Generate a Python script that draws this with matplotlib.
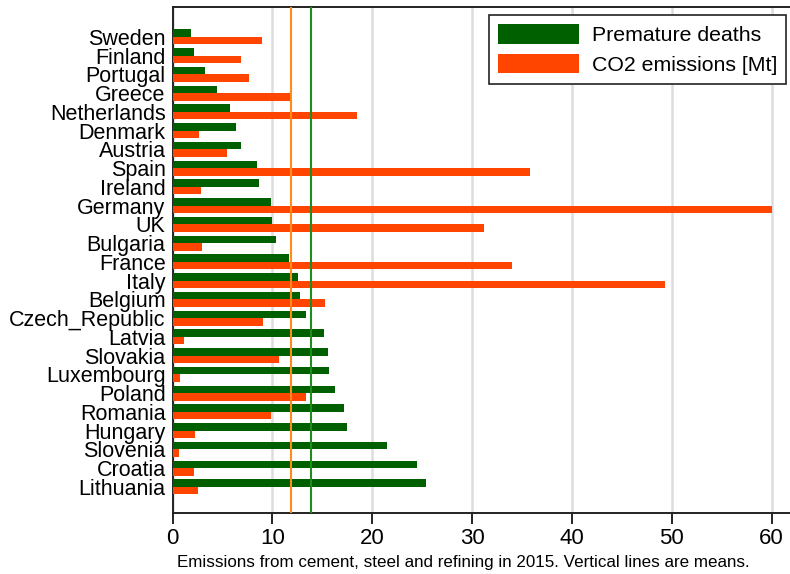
import matplotlib
matplotlib.use("Agg")
import matplotlib.pyplot as plt
import numpy as np

countries = ["Sweden", "Finland", "Portugal", "Greece", "Netherlands", "Denmark",
             "Austria", "Spain", "Ireland", "Germany", "UK", "Bulgaria", "France",
             "Italy", "Belgium", "Czech_Republic", "Latvia", "Slovakia", "Luxembourg",
             "Poland", "Romania", "Hungary", "Slovenia", "Croatia", "Lithuania"]
deaths = [1.9, 2.2, 3.3, 4.5, 5.8, 6.4, 6.9, 8.5, 8.7, 9.9, 10.0, 10.4, 11.65,
          12.55, 12.8, 13.4, 15.2, 15.6, 15.7, 16.3, 17.2, 17.5, 21.5, 24.5, 25.4]
co2 = [8.95, 6.9, 7.7, 12.0, 18.5, 2.7, 5.5, 35.8, 2.9, 60.0, 31.2, 3.0, 34.0,
       49.3, 15.25, 9.1, 1.2, 10.7, 0.77, 13.4, 9.9, 2.3, 0.67, 2.2, 2.6]
xticks = [0, 10, 20, 30, 40, 50, 60]

plt.rcParams['font.family'] = ['Liberation Sans', 'DejaVu Sans']

fig = plt.figure(figsize=(7.9, 5.74), dpi=100)
ax = fig.add_axes([172.5 / 790, 1 - 513 / 574, 1 - 172.5 / 790, (513 - 7) / 574])

y = np.arange(len(countries))
h = 0.4
ax.barh(y - h / 2, deaths, height=h, color="#006000", label="Premature deaths", zorder=3)
ax.barh(y + h / 2, co2, height=h, color="#FF4500", label="CO2 emissions [Mt]", zorder=3)

ax.axvline(np.mean(deaths), color="#FF8C1A", lw=1.5, zorder=4)
ax.axvline(np.mean(co2), color="#1E8C1E", lw=1.5, zorder=4)

ax.set_xlim(0, (790 - 172.5) / 9.985)
ax.set_ylim(len(countries) - 1 + 1.39, -1.6)
ax.set_xticks(xticks)
ax.set_xticklabels([str(t) for t in xticks], fontsize=16)
ax.set_yticks(y)
ax.set_yticklabels(countries, fontsize=15.5)
ax.tick_params(axis="y", length=0, pad=5)
ax.tick_params(axis="x", length=8, width=1.2, direction="out", pad=3)

ax.grid(axis="x", color="#dddddd", lw=1.8, zorder=0)
ax.set_axisbelow(True)
for s in ["left", "bottom", "top"]:
    ax.spines[s].set_linewidth(1.4)
    ax.spines[s].set_color("#222222")
ax.spines["right"].set_visible(False)

leg = ax.legend(loc="upper right", bbox_to_anchor=(786 / 790, 1 - 15 / 574),
                bbox_transform=fig.transFigure,
                fontsize=15.3, frameon=True, fancybox=False, edgecolor="#222222",
                handlelength=3.8, handleheight=1.05, borderpad=0.42, labelspacing=0.4,
                handletextpad=0.6, borderaxespad=0)
leg.get_frame().set_linewidth(1.2)
leg.get_frame().set_alpha(1)

fig.text(463 / 790, 1 - 563 / 574, "Emissions from cement, steel and refining in 2015. Vertical lines are means.",
         ha="center", va="center", fontsize=12.25)

fig.savefig("out.png", dpi=100)
